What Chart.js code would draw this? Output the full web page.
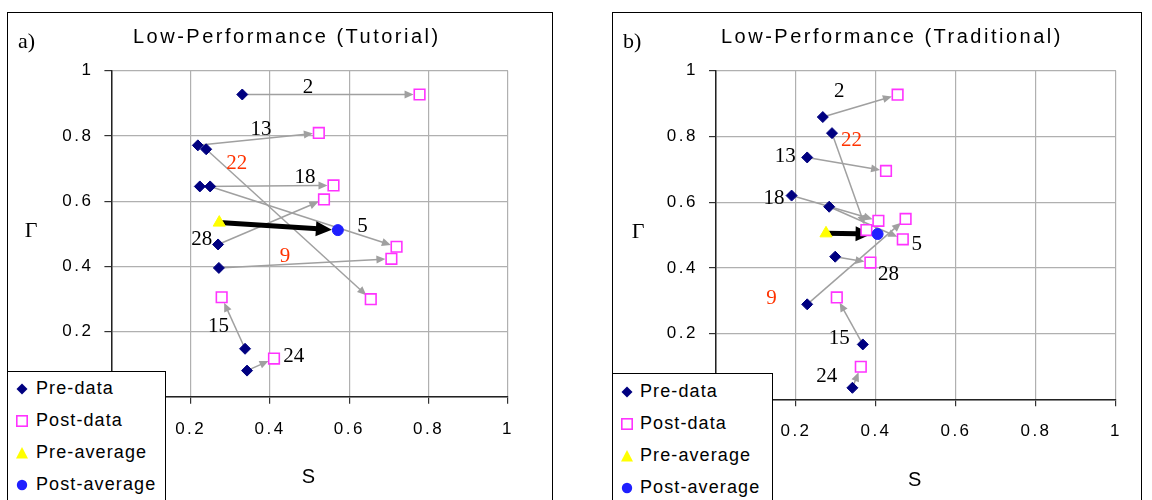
<!DOCTYPE html>
<html>
<head>
<meta charset="utf-8">
<script src="https://cdn.jsdelivr.net/npm/chart.js@4/dist/chart.umd.min.js"></script>
<style>
body{margin:0;width:1152px;height:500px;overflow:hidden;background:#fff;position:relative;font-family:"Liberation Sans",Arial,sans-serif}
.panel{position:absolute;border:1px solid #000;background:#fff}
.panel canvas{position:absolute;left:0;top:0}
.legend{position:absolute;border:1px solid #000;background:#fff;font-size:18px;letter-spacing:1.1px;color:#000}
.legend svg{position:absolute}
.legend span{position:absolute;line-height:22px;white-space:nowrap}
</style>
</head>
<body>

<div class="panel" style="left:7px;top:12px;width:544px;height:500px"><canvas id="chartA" width="544" height="487"></canvas></div>
<div class="panel" style="left:612px;top:12px;width:528px;height:500px"><canvas id="chartB" width="528" height="487"></canvas></div>

<div class="legend" id="legA" style="left:7px;top:371px;width:157px;height:140px"></div>
<div class="legend" id="legB" style="left:612px;top:373px;width:159px;height:140px"></div>

<script>
// ---- a) Low-Performance (Tutorial) ----
var tutSubjects = ["2","13","22","18","5","28","9","15","24"];
var tutPreS  = [0.330,0.218,0.239,0.223,0.249,0.269,0.271,0.337,0.342];
var tutPreG  = [0.927,0.771,0.759,0.645,0.645,0.467,0.395,0.147,0.080];
var tutPostS = [0.777,0.523,0.654,0.560,0.719,0.536,0.706,0.278,0.410];
var tutPostG = [0.927,0.809,0.299,0.648,0.460,0.605,0.423,0.305,0.117];
var tutAvgPre  = [0.272,0.534];
var tutAvgPost = [0.571,0.511];

// ---- b) Low-Performance (Traditional) ----
var tradSubjects = ["2","22","13","18","5","28","9","15","24"];
var tradPreS  = [0.267,0.290,0.228,0.189,0.283,0.298,0.228,0.367,0.341];
var tradPreG  = [0.859,0.810,0.736,0.620,0.586,0.434,0.289,0.167,0.035];
var tradPostS = [0.454,0.376,0.425,0.406,0.467,0.386,0.474,0.302,0.362];
var tradPostG = [0.927,0.515,0.695,0.543,0.487,0.416,0.549,0.310,0.099];
var tradAvgPre  = [0.275,0.505];
var tradAvgPost = [0.404,0.503];

var axisTicks = [0,0.2,0.4,0.6,0.8,1];
var axisTickLabels = ["0","0.2","0.4","0.6","0.8","1"];
var legendNames = ["Pre-data","Post-data","Pre-average","Post-average"];

// where the subject numbers sit (data units) - layout only
var tutLabelPos  = [[0.496,0.953],[0.377,0.823],[0.316,0.721],[0.488,0.677],[0.633,0.527],[0.228,0.486],[0.438,0.435],[0.270,0.220],[0.460,0.128]];
var tradLabelPos = [[0.308,0.940],[0.339,0.791],[0.173,0.743],[0.145,0.617],[0.502,0.475],[0.431,0.385],[0.139,0.312],[0.308,0.190],[0.277,0.074]];
var redLabels = ["22","9"];

var SANS = '"Liberation Sans", Arial, sans-serif';
var SERIF = '"Liberation Serif", "Times New Roman", serif';
var NAVY = "#000080", PINK = "#ff33ff", YELLOW = "#ffff00", BLUE = "#1f1fff";
var ARROW = "#a0a0a0";

function pts(xs, ys){
	var out = [];
	for(var i=0;i<xs.length;i++){ out.push({x:xs[i], y:ys[i]}); }
	return out;
}

function tickText(v){
	var i = axisTicks.indexOf(v);
	return i>=0 ? axisTickLabels[i] : "";
}

function arrow(ctx, x1, y1, x2, y2, color, lw, headLen, headW, gap){
	var dx = x2-x1, dy = y2-y1;
	var len = Math.sqrt(dx*dx+dy*dy);
	var ux = dx/len, uy = dy/len;
	var tx = x2-ux*gap, ty = y2-uy*gap;
	var bx = tx-ux*headLen, by = ty-uy*headLen;
	ctx.save();
	ctx.strokeStyle = color;
	ctx.fillStyle = color;
	ctx.lineWidth = lw;
	ctx.beginPath();
	ctx.moveTo(x1,y1);
	ctx.lineTo(bx+ux*2,by+uy*2);
	ctx.stroke();
	ctx.beginPath();
	ctx.moveTo(tx,ty);
	ctx.lineTo(bx-uy*headW/2, by+ux*headW/2);
	ctx.lineTo(bx+uy*headW/2, by-ux*headW/2);
	ctx.closePath();
	ctx.fill();
	ctx.restore();
}

function makePanel(id, p){
	var decor = {
		id: "decor_"+id,
		beforeLayout: function(chart){ chart.ctx.letterSpacing = "2.5px"; },
		beforeDraw: function(chart){ chart.ctx.letterSpacing = "2.5px"; },
		beforeDatasetsDraw: function(chart){
			var ctx = chart.ctx, xs = chart.scales.x, ys = chart.scales.y;
			for(var i=0;i<p.preS.length;i++){
				arrow(ctx, xs.getPixelForValue(p.preS[i]), ys.getPixelForValue(p.preG[i]),
					xs.getPixelForValue(p.postS[i]), ys.getPixelForValue(p.postG[i]), ARROW, 1.5, 9, 8, 6);
			}
			arrow(ctx, xs.getPixelForValue(p.avgPre[0]), ys.getPixelForValue(p.avgPre[1]),
				xs.getPixelForValue(p.avgPost[0]), ys.getPixelForValue(p.avgPost[1]), "#000", 5, 16, 15, 6);
		},
		afterDraw: function(chart){
			var ctx = chart.ctx, xs = chart.scales.x, ys = chart.scales.y;
			ctx.save();
			ctx.fillStyle = "#000";
			ctx.letterSpacing = "2.5px";
			ctx.font = "20px " + SANS;
			ctx.textAlign = "left";
			ctx.textBaseline = "alphabetic";
			ctx.fillText(p.title, p.titleX, 30);
			ctx.letterSpacing = "0px";
			ctx.font = "22px " + SERIF;
			ctx.fillText(p.tag, 10, 35);
			ctx.font = "22px " + SERIF;
			ctx.textAlign = "center";
			ctx.textBaseline = "middle";
			ctx.fillText("\u0393", p.gammaX, p.gammaY);
			ctx.font = "21px " + SERIF;
			ctx.textBaseline = "alphabetic";
			for(var i=0;i<p.names.length;i++){
				ctx.fillStyle = redLabels.indexOf(p.names[i])>=0 ? "#ff3300" : "#000";
				ctx.fillText(p.names[i], xs.getPixelForValue(p.labelPos[i][0]), ys.getPixelForValue(p.labelPos[i][1])+7);
			}
			ctx.restore();
		}
	};

	var tickFont = {family:SANS, size:17};
	new Chart(document.getElementById(id), {
		type: "scatter",
		data: {
			datasets: [
				{label:legendNames[3], data:[{x:p.avgPost[0],y:p.avgPost[1]}], pointStyle:"circle", radius:5.5, backgroundColor:BLUE, borderColor:BLUE, borderWidth:1},
				{label:legendNames[2], data:[{x:p.avgPre[0],y:p.avgPre[1]}], pointStyle:"triangle", radius:7, backgroundColor:YELLOW, borderColor:YELLOW, borderWidth:1},
				{label:legendNames[0], data:pts(p.preS,p.preG), pointStyle:"rectRot", radius:5.5, backgroundColor:NAVY, borderColor:NAVY, borderWidth:1},
				{label:legendNames[1], data:pts(p.postS,p.postG), pointStyle:"rect", radius:7.5, backgroundColor:"#fff", borderColor:PINK, borderWidth:1.6}
			]
		},
		options: {
			responsive: false,
			animation: false,
			devicePixelRatio: 1,
			events: [],
			layout: {padding: {left:0, top:p.padTop, right:p.padRight, bottom:0}},
			plugins: {legend:{display:false}, tooltip:{enabled:false}},
			scales: {
				x: {
					type:"linear", min:0, max:1,
					afterBuildTicks: function(s){ s.ticks = axisTicks.map(function(v){ return {value:v}; }); },
					afterFit: function(s){ s.height = p.xAxisH; },
					ticks: {font:tickFont, color:"#000", padding:15, maxRotation:0, autoSkip:false, callback:tickText},
					grid: {color:"#b0b0b0", lineWidth:1.2, tickLength:7, tickColor:"#333"},
					border: {color:"#222", width:1.5},
					title: {display:true, text:"S", color:"#000", font:{family:SANS, size:20}, padding:{top:0, bottom:p.sPad}}
				},
				y: {
					type:"linear", min:0, max:1,
					afterBuildTicks: function(s){ s.ticks = axisTicks.map(function(v){ return {value:v}; }); },
					afterFit: function(s){ s.width = p.yAxisW; },
					ticks: {font:tickFont, color:"#000", padding:11, callback:tickText},
					grid: {color:"#b0b0b0", lineWidth:1.2, tickLength:7, tickColor:"#333"},
					border: {color:"#222", width:1.5}
				}
			}
		},
		plugins: [decor]
	});
}

function makeLegend(id, rows, mx, tx){
	var el = document.getElementById(id);
	var svgs = [
		'<polygon points="7,1.5 12.5,7 7,12.5 1.5,7" fill="'+NAVY+'"/>',
		'<rect x="1.8" y="1.8" width="10.4" height="10.4" fill="#fff" stroke="'+PINK+'" stroke-width="1.6"/>',
		'<polygon points="7,1 13,12.5 1,12.5" fill="'+YELLOW+'"/>',
		'<circle cx="7" cy="7" r="5.2" fill="'+BLUE+'"/>'
	];
	var html = "";
	for(var i=0;i<legendNames.length;i++){
		html += '<svg width="14" height="14" style="left:'+(mx-7)+'px;top:'+(rows[i]-7)+'px">'+svgs[i]+'</svg>';
		html += '<span style="left:'+tx+'px;top:'+(rows[i]-12)+'px">'+legendNames[i]+'</span>';
	}
	el.innerHTML = html;
}

makePanel("chartA", {
	preS:tutPreS, preG:tutPreG, postS:tutPostS, postG:tutPostG, avgPre:tutAvgPre, avgPost:tutAvgPost,
	names:tutSubjects, labelPos:tutLabelPos, title:"Low-Performance (Tutorial)", tag:"a)",
	titleX:125, gammaX:23, gammaY:218, padTop:57.7, padRight:44, yAxisW:103.4, xAxisH:103.3, sPad:11
});
makePanel("chartB", {
	preS:tradPreS, preG:tradPreG, postS:tradPostS, postG:tradPostG, avgPre:tradAvgPre, avgPost:tradAvgPost,
	names:tradSubjects, labelPos:tradLabelPos, title:"Low-Performance (Traditional)", tag:"b)",
	titleX:108, gammaX:25, gammaY:219, padTop:57.7, padRight:25, yAxisW:103, xAxisH:100.7, sPad:8
});
makeLegend("legA", [17,49,81,113], 14, 28);
makeLegend("legB", [18,50,82,114], 14, 27);
</script>
</body>
</html>
